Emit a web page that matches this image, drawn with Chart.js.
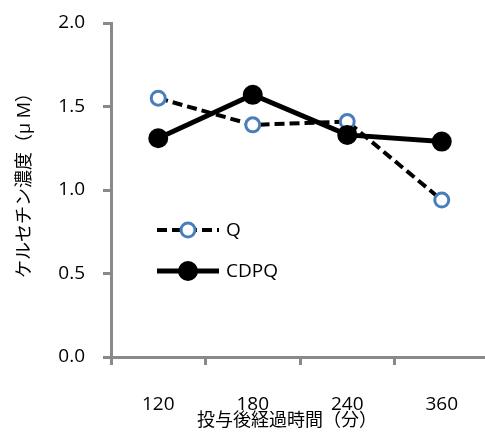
<!DOCTYPE html>
<html>
<head>
<meta charset="utf-8">
<script src="https://cdn.jsdelivr.net/npm/chart.js@4.4.1/dist/chart.umd.min.js"></script>
<style>
  html, body { margin: 0; padding: 0; background: #fff; overflow: hidden; }
  #wrap { width: 485px; height: 432px; overflow: hidden; }
</style>
</head>
<body>
<div id="wrap"><canvas id="myChart" width="500" height="432"></canvas></div>
<script>
const labels = ['120', '180', '240', '360'];
const qValues = [1.55, 1.39, 1.41, 0.94];
const cdpqValues = [1.31, 1.57, 1.33, 1.29];
const yTitle = 'ケルセチン濃度（μ M）';
const xTitle = '投与後経過時間（分）';

const axisGray = '#898989';
const fontFamily = "'Open Sans', 'Noto Sans CJK JP', sans-serif";

// legend inside the plot + axis titles, excel style
const innerLegend = {
    id: 'innerLegend',
    afterDatasetsDraw(chart) {
        const ctx = chart.ctx;
        const rows = [
            { ds: chart.data.datasets[0], y: 230 },
            { ds: chart.data.datasets[1], y: 271 }
        ];
        ctx.save();
        rows.forEach(r => {
            ctx.beginPath();
            ctx.setLineDash(r.ds.borderDash || []);
            ctx.lineWidth = r.ds.borderWidth;
            ctx.strokeStyle = r.ds.borderColor;
            ctx.moveTo(157, r.y);
            ctx.lineTo(219, r.y);
            ctx.stroke();
            ctx.setLineDash([]);
            ctx.beginPath();
            ctx.arc(188, r.y, r.ds.pointRadius, 0, Math.PI * 2);
            ctx.fillStyle = r.ds.pointBackgroundColor;
            ctx.fill();
            ctx.lineWidth = r.ds.pointBorderWidth;
            ctx.strokeStyle = r.ds.pointBorderColor;
            ctx.stroke();
            ctx.fillStyle = '#000';
            ctx.font = '19px ' + fontFamily;
            ctx.textBaseline = 'middle';
            ctx.textAlign = 'left';
            ctx.fillText(r.ds.label, 226, r.y + 1);
        });
        ctx.fillStyle = '#000';
        ctx.font = '18px ' + fontFamily;
        ctx.textAlign = 'center';
        ctx.textBaseline = 'middle';
        ctx.fillText(xTitle, 287, 421);
        ctx.translate(25, 181);
        ctx.rotate(-Math.PI / 2);
        ctx.fillText(yTitle, 0, 0);
        ctx.restore();
    }
};

const data = {
    labels: labels,
    datasets: [
        {
            label: 'Q',
            data: qValues,
            borderColor: '#000',
            borderWidth: 4,
            borderDash: [10, 5],
            pointRadius: 7,
            pointBorderWidth: 3,
            pointBorderColor: '#4a7ebb',
            pointBackgroundColor: '#fff',
            tension: 0,
            order: 1
        },
        {
            label: 'CDPQ',
            data: cdpqValues,
            borderColor: '#000',
            borderWidth: 5,
            pointRadius: 9,
            pointBorderWidth: 2,
            pointBorderColor: '#000',
            pointBackgroundColor: '#000',
            tension: 0,
            order: 0
        }
    ]
};

const config = {
    type: 'line',
    data: data,
    options: {
        responsive: false,
        animation: false,
        layout: { padding: { top: 23, right: 9, left: 0, bottom: 0 } },
        plugins: {
            legend: { display: false },
            tooltip: { enabled: false }
        },
        scales: {
            x: {
                offset: true,
                afterFit: s => { s.height = 75; s.paddingLeft = 0; s.paddingRight = 0; },
                grid: {
                    offset: true,
                    drawOnChartArea: false,
                    color: axisGray,
                    lineWidth: 3,
                    tickLength: 8
                },
                border: { color: axisGray, width: 3 },
                ticks: {
                    color: '#000',
                    padding: 28,
                    maxRotation: 0,
                    font: { size: 19, family: fontFamily }
                }
            },
            y: {
                min: 0,
                max: 2,
                afterFit: s => { s.width = 111; s.paddingTop = 0; s.paddingBottom = 0; },
                grid: {
                    drawOnChartArea: false,
                    color: axisGray,
                    lineWidth: 3,
                    tickLength: 8
                },
                border: { color: axisGray, width: 3 },
                ticks: {
                    stepSize: 0.5,
                    color: '#000',
                    padding: 18,
                    font: { size: 19, family: fontFamily },
                    callback: v => v.toFixed(1)
                }
            }
        }
    },
    plugins: [innerLegend]
};

const ctx = document.getElementById('myChart').getContext('2d');
new Chart(ctx, config);
</script>
</body>
</html>
